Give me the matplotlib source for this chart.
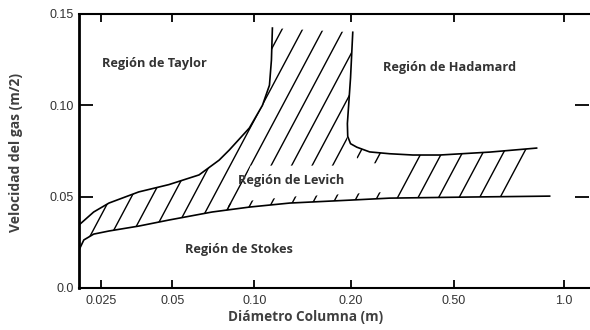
import numpy as np
import matplotlib
matplotlib.use("Agg")
import matplotlib.pyplot as plt
from matplotlib.collections import LineCollection
from matplotlib.patches import Polygon
from matplotlib.scale import FuncScale

# axis ticks
x_ticks = [0.025, 0.05, 0.10, 0.20, 0.50, 1.0]
x_tick_labels = ["0.025", "0.05", "0.10", "0.20", "0.50", "1.0"]
y_ticks = [0.0, 0.05, 0.10, 0.15]
y_tick_labels = ["0.0", "0.05", "0.10", "0.15"]

# the diameter axis of the original figure is not a clean log axis,
# so keep its spacing
scale_vals = [0.02, 0.025, 0.05, 0.10, 0.20, 0.50, 1.0, 1.17]
scale_pos = [0, 22, 93, 175, 271, 374, 484, 509]

# boundary curves (diameter m, gas velocity)
taylor_x = [0.020, 0.0232, 0.0270, 0.0361, 0.0484, 0.0627, 0.0743, 0.0809, 0.0959, 0.106, 0.1115, 0.1131, 0.1139]
taylor_y = [0.0345, 0.0416, 0.0465, 0.0526, 0.0566, 0.0619, 0.0700, 0.0755, 0.0876, 0.1000, 0.1110, 0.1248, 0.1423]

stokes_x = [0.020, 0.0210, 0.0232, 0.0270, 0.0361, 0.0484, 0.070, 0.0959, 0.129, 0.199, 0.283, 0.553, 0.914]
stokes_y = [0.0208, 0.0263, 0.0295, 0.0312, 0.0339, 0.0372, 0.0416, 0.0443, 0.0465, 0.0481, 0.0492, 0.0498, 0.0503]

hadamard_x = [0.204, 0.200, 0.1955, 0.196, 0.200, 0.2114, 0.237, 0.283, 0.348, 0.442, 0.627, 0.842]
hadamard_y = [0.140, 0.115, 0.090, 0.083, 0.079, 0.0771, 0.0745, 0.0735, 0.0728, 0.0728, 0.0744, 0.0766]

levich_top = 0.067      # lower edge of the hatched band above the Levich label
band_start = 0.084      # where the left hatched band meets the Levich fringe
band_end = 0.283        # start of the right hatched block
block_end = 0.689

regions = ["Región de Taylor", "Región de Hadamard", "Región de Levich", "Región de Stokes"]
region_x = [0.0422, 0.483, 0.130, 0.0881]
region_y = [0.1231, 0.1209, 0.0591, 0.0213]


def fwd(x):
    x = np.clip(np.asarray(x, dtype=float), 1e-6, None)
    return np.interp(np.log10(x), np.log10(scale_vals), scale_pos)


def inv(p):
    return 10 ** np.interp(p, scale_pos, np.log10(scale_vals))


fig = plt.figure(figsize=(5.9, 3.3), dpi=100)
ax = fig.add_axes([79 / 590, 1 - 288 / 330, 510 / 590, 274 / 330])
ax.set_xscale(FuncScale(ax, (fwd, inv)))
ax.set_xlim(scale_vals[0], scale_vals[-1])
ax.set_ylim(0, 0.15)

lw = 1.2
ax.plot(taylor_x, taylor_y, color="black", lw=lw)
ax.plot(stokes_x, stokes_y, color="black", lw=lw)
ax.plot(hadamard_x, hadamard_y, color="black", lw=lw)

# hatched areas
sx = np.array(stokes_x)
sy = np.array(stokes_y)
hx = np.array(hadamard_x)
hy = np.array(hadamard_y)

left_poly = list(zip(taylor_x[::-1], taylor_y[::-1]))
left_poly += [(a, b) for a, b in zip(sx, sy) if a < band_start]
left_poly += [(band_start, np.interp(band_start, sx, sy)), (0.097, levich_top), (0.19, levich_top)]
left_poly += [(a, b) for a, b in zip(hx[::-1], hy[::-1]) if b >= 0.083]

fx = np.linspace(band_start - 0.004, band_end, 30)
low_fringe = list(zip(fx, np.interp(fx, sx, sy))) + list(zip(fx[::-1], np.interp(fx[::-1], sx, sy) + 0.0035))

hx_tail = hx[4:]
hy_tail = hy[4:]
gx = np.linspace(0.2114, band_end, 20)
top_fringe = list(zip(gx, np.interp(gx, hx_tail, hy_tail))) + list(zip(gx[::-1], np.interp(gx[::-1], hx_tail, hy_tail) - 0.006))

bx = np.linspace(band_end, block_end, 30)
block = list(zip(bx, np.interp(bx, sx, sy)))
block += [(a, b) for a, b in zip(hx[::-1], hy[::-1]) if a >= 0.348 and b < 0.08]

W, H = 510.0, 274.0
ang = np.deg2rad(62)
run = H / np.tan(ang)
segs = [[(x0 / W, 0), ((x0 + run) / W, 1)] for x0 in np.arange(-160, 520, 20.5)]

for pts in [left_poly, low_fringe, top_fringe, block]:
    patch = Polygon(pts, closed=True, facecolor="none", edgecolor="none")
    ax.add_patch(patch)
    lc = LineCollection(segs, colors="black", linewidths=1.0, transform=ax.transAxes)
    ax.add_collection(lc)
    lc.set_clip_path(patch)

# labels for the regions
for name, rx, ry in zip(regions, region_x, region_y):
    ax.text(rx, ry, name, fontsize=9.2, fontweight="bold", family="Open Sans",
            color="#333333", ha="center", va="center")

ax.set_xticks(x_ticks)
ax.set_xticklabels(x_tick_labels)
ax.xaxis.set_minor_locator(matplotlib.ticker.NullLocator())
ax.set_yticks(y_ticks)
ax.set_yticklabels(y_tick_labels)

ax.tick_params(axis="x", direction="in", top=True, length=6, width=1.3,
               labelsize=9, labelcolor="#333333", pad=5)
ax.tick_params(axis="y", direction="in", right=True, length=10, width=1.3,
               labelsize=9, labelcolor="#333333", pad=4)
for lab in ax.get_xticklabels() + ax.get_yticklabels():
    lab.set_family("Liberation Sans")

for side in ["left", "bottom", "top"]:
    ax.spines[side].set_linewidth(1.5)
ax.spines["left"].set_linewidth(2)
ax.spines["right"].set_visible(False)

fig.text(306 / 590, 1 - 317 / 330, "Diámetro Columna (m)", fontsize=9.8, fontweight="bold",
         family="Open Sans", color="#404040", ha="center", va="center")
fig.text(16 / 590, 1 - 152 / 330, "Velocidad del gas (m/2)", fontsize=10, fontweight="bold",
         family="Open Sans", color="#404040", ha="center", va="center", rotation=90)

fig.savefig("out.png", dpi=100)
